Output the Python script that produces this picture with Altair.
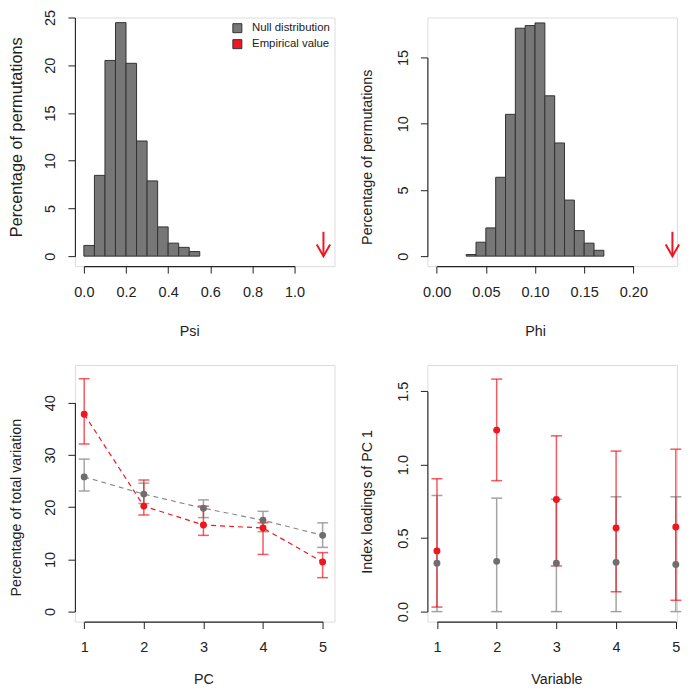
import altair as alt
import pandas as pd

# ---------------- data ----------------
psi_edges = [0.00, 0.05, 0.10, 0.15, 0.20, 0.25, 0.30, 0.35, 0.40, 0.45, 0.50, 0.55]
psi_pct = [1.12, 8.46, 20.5, 24.46, 20.2, 12.06, 7.88, 3.06, 1.36, 0.92, 0.48]
psi_empirical = 1.137
psi_arrow_top = 2.55

phi_edges = [0.03, 0.04, 0.05, 0.06, 0.07, 0.08, 0.09, 0.10, 0.11, 0.12, 0.13, 0.14, 0.15, 0.16, 0.17]
phi_pct = [0.12, 1.05, 2.13, 5.95, 10.7, 17.2, 17.4, 17.6, 12.1, 8.54, 4.23, 1.93, 0.98, 0.44]
phi_empirical = 0.2397
phi_arrow_top = 1.84

pc = [1, 2, 3, 4, 5]
pc_null_mean = [25.8, 22.5, 19.8, 17.5, 14.6]
pc_null_lo = [23.1, 20.7, 18.0, 15.3, 12.3]
pc_null_hi = [29.2, 24.6, 21.4, 19.2, 17.0]
pc_emp_mean = [37.8, 20.2, 16.6, 16.0, 9.5]
pc_emp_lo = [32.1, 18.5, 14.6, 10.95, 6.5]
pc_emp_hi = [44.6, 25.2, 20.2, 17.0, 11.3]

variable = [1, 2, 3, 4, 5]
load_null_mean = [0.329, 0.342, 0.329, 0.335, 0.320]
load_null_lo = [0.0, 0.0, 0.0, 0.0, 0.0]
load_null_hi = [0.790, 0.772, 0.765, 0.781, 0.781]
load_emp_mean = [0.413, 1.235, 0.763, 0.569, 0.576]
load_emp_lo = [0.031, 0.891, 0.311, 0.135, 0.077]
load_emp_hi = [0.904, 1.582, 1.196, 1.092, 1.105]

series_names = ["Null distribution", "Empirical value"]

psi_ticks = [0.0, 0.2, 0.4, 0.6, 0.8, 1.0]
psi_pct_ticks = [0, 5, 10, 15, 20, 25]
phi_ticks = [0.00, 0.05, 0.10, 0.15, 0.20]
phi_pct_ticks = [0, 5, 10, 15]
pc_ticks = [1, 2, 3, 4, 5]
var_pct_ticks = [0, 10, 20, 30, 40]
load_ticks = [0.0, 0.5, 1.0, 1.5]

# ---------------- styles ----------------
FONT = "Liberation Sans"
AX = "#222222"
GRAY_BAR = "#777777"
BAR_EDGE = "#333333"
RED = "#F0161F"
GRAY_PT = "#6E6E6E"
GRAY_BAR_ERR = "#9A9A9A"
LAB = 14.5
TIT = 14.3

W_L, W_R = 260, 250
H_T, H_B = 249, 257

# pixel span (inside each view) covered by the first..last tick, R style
TL_XR, TL_YR = [9.0, 220.0], [239.0, 0.0]
TR_XR, TR_YR = [9.3, 206.3], [239.0, 39.95]
BL_XR, BL_YR = [9.31, 248.1], [247.0, 37.8]
BR_XR, BR_YR = [9.6, 248.8], [247.0, 26.2]


def xaxis(title, values, fmt, tpad):
    return alt.Axis(title=title, values=values, format=fmt, domain=True, domainColor=AX,
                    domainWidth=1.1, grid=False,
                    tickSize=7, tickColor=AX, labelColor=AX, titleColor=AX,
                    labelFont=FONT, titleFont=FONT, labelFontSize=LAB, titleFontSize=TIT,
                    titleFontWeight="normal", labelPadding=12, titlePadding=tpad,
                    labelFlush=False, labelOverlap=False)


def yaxis(title, values, fmt, tsize, tpad):
    return alt.Axis(title=title, values=values, format=fmt, domain=True, domainColor=AX,
                    domainWidth=1.1, grid=False,
                    tickSize=7, tickColor=AX, labelColor=AX, titleColor=AX,
                    labelFont=FONT, titleFont=FONT, labelFontSize=LAB, titleFontSize=tsize,
                    titleFontWeight="normal", labelAngle=270, labelAlign="center",
                    labelBaseline="bottom", labelPadding=10, titlePadding=tpad,
                    labelFlush=False, labelOverlap=False)


def panel(xticks, yticks, xrange_, yrange_, xfmt, yfmt, xtitle, ytitle, ytsize, xtpad, ytpad):
    xdom = [xticks[0], xticks[-1]]
    ydom = [yticks[0], yticks[-1]]

    def X(f):
        return alt.X(f"{f}:Q", scale=alt.Scale(domain=xdom, range=xrange_, nice=False,
                                               zero=False, padding=0),
                     axis=xaxis(xtitle, xticks, xfmt, xtpad))

    def Y(f):
        return alt.Y(f"{f}:Q", scale=alt.Scale(domain=ydom, range=yrange_, nice=False,
                                               zero=False, padding=0),
                     axis=yaxis(ytitle, yticks, yfmt, ytsize, ytpad))

    return X, Y


ARROW_HEAD = "M -1 -1.73 L 0 0 L 1 -1.73"


def histogram(edges, pct, emp, top, xr, yr, xticks, yticks, xfmt, xtitle, w, legend,
              ytsize, ytpad):
    X, Y = panel(xticks, yticks, xr, yr, xfmt, "d", xtitle, "Percentage of permutations",
                 ytsize, 26, ytpad)
    df = pd.DataFrame({"x0": edges[:-1], "x1": edges[1:], "pct": pct,
                       "series": [series_names[0]] * len(pct)})
    if legend:
        color = alt.Color("series:N", scale=alt.Scale(domain=series_names, range=[GRAY_BAR, RED]),
                          legend=alt.Legend(orient="none", legendX=157, legendY=5, title=None,
                                            symbolType="square", symbolSize=81,
                                            symbolStrokeColor=BAR_EDGE, symbolStrokeWidth=1,
                                            symbolOpacity=1,
                                            labelFont=FONT, labelFontSize=11.4, labelColor=AX,
                                            labelOffset=9, rowPadding=2, padding=0))
        bars = alt.Chart(df).mark_bar(stroke=BAR_EDGE, strokeWidth=1, opacity=1).encode(
            x=X("x0"), x2="x1", y=Y("pct"), y2=alt.datum(0), fill=color)
    else:
        bars = alt.Chart(df).mark_bar(fill=GRAY_BAR, stroke=BAR_EDGE, strokeWidth=1).encode(
            x=X("x0"), x2="x1", y=Y("pct"), y2=alt.datum(0))
    adf = pd.DataFrame({"x": [emp], "top": [top], "tip": [0.0]})
    shaft = alt.Chart(adf).mark_rule(color=RED, strokeWidth=2).encode(
        x=X("x"), y=Y("top"), y2="tip")
    head = alt.Chart(adf).mark_point(shape=ARROW_HEAD, filled=False, stroke=RED,
                                     strokeWidth=2, size=180, opacity=1).encode(
        x=X("x"), y=Y("tip"))
    return alt.layer(bars, shaft, head).properties(width=w, height=H_T)


def errpanel(xs, nm, nlo, nhi, em, elo, ehi, xr, yr, yticks, yfmt, xtitle, ytitle, w,
             lines, ytpad):
    X, Y = panel(pc_ticks, yticks, xr, yr, "d", yfmt, xtitle, ytitle, TIT, 18, ytpad)
    nd = pd.DataFrame({"x": xs, "m": nm, "lo": nlo, "hi": nhi})
    ed = pd.DataFrame({"x": xs, "m": em, "lo": elo, "hi": ehi})

    def group(d, errc, linec, ealpha):
        out = []
        if lines:
            out.append(alt.Chart(d).mark_line(color=linec, strokeWidth=1.2,
                                              strokeDash=[5, 4]).encode(x=X("x"), y=Y("m")))
        out.append(alt.Chart(d).mark_rule(color=errc, strokeWidth=1.5, opacity=ealpha).encode(
            x=X("x"), y=Y("lo"), y2="hi"))
        out.append(alt.Chart(d).mark_tick(color=errc, orient="horizontal", size=11,
                                          thickness=1.5, opacity=ealpha).encode(x=X("x"), y=Y("lo")))
        out.append(alt.Chart(d).mark_tick(color=errc, orient="horizontal", size=11,
                                          thickness=1.5, opacity=ealpha).encode(x=X("x"), y=Y("hi")))
        return out

    g_n = group(nd, GRAY_BAR_ERR, "#8A8A8A", 0.9)
    g_e = group(ed, RED, RED, 0.7)
    pts_n = alt.Chart(nd).mark_circle(color=GRAY_PT, size=48, opacity=1).encode(x=X("x"), y=Y("m"))
    pts_e = alt.Chart(ed).mark_circle(color=RED, size=48, opacity=1).encode(x=X("x"), y=Y("m"))
    return alt.layer(*(g_n + g_e + [pts_n, pts_e])).properties(width=w, height=H_B)


tl = histogram(psi_edges, psi_pct, psi_empirical, psi_arrow_top, TL_XR, TL_YR,
               psi_ticks, psi_pct_ticks, ".1f", "Psi", W_L, True, 16.3, 18)
tr = histogram(phi_edges, phi_pct, phi_empirical, phi_arrow_top, TR_XR, TR_YR,
               phi_ticks, phi_pct_ticks, ".2f", "Phi", W_R, False, TIT, 21)
bl = errpanel(pc, pc_null_mean, pc_null_lo, pc_null_hi, pc_emp_mean, pc_emp_lo, pc_emp_hi,
              BL_XR, BL_YR, var_pct_ticks, "d", "PC",
              "Percentage of total variation", W_L, True, 19)
br = errpanel(variable, load_null_mean, load_null_lo, load_null_hi,
              load_emp_mean, load_emp_lo, load_emp_hi,
              BR_XR, BR_YR, load_ticks, ".1f", "Variable",
              "Index loadings of PC 1", W_R, False, 21)

chart = alt.concat(tl, tr, bl, br, columns=2, bounds="flush",
                   spacing={"row": 99, "column": 93}).resolve_scale(
    color="independent", x="independent", y="independent").properties(
    padding=0, background="white").configure_view(stroke=None).configure(font=FONT)

chart.save("out.html", embed_options={"renderer": "svg", "actions": False})
